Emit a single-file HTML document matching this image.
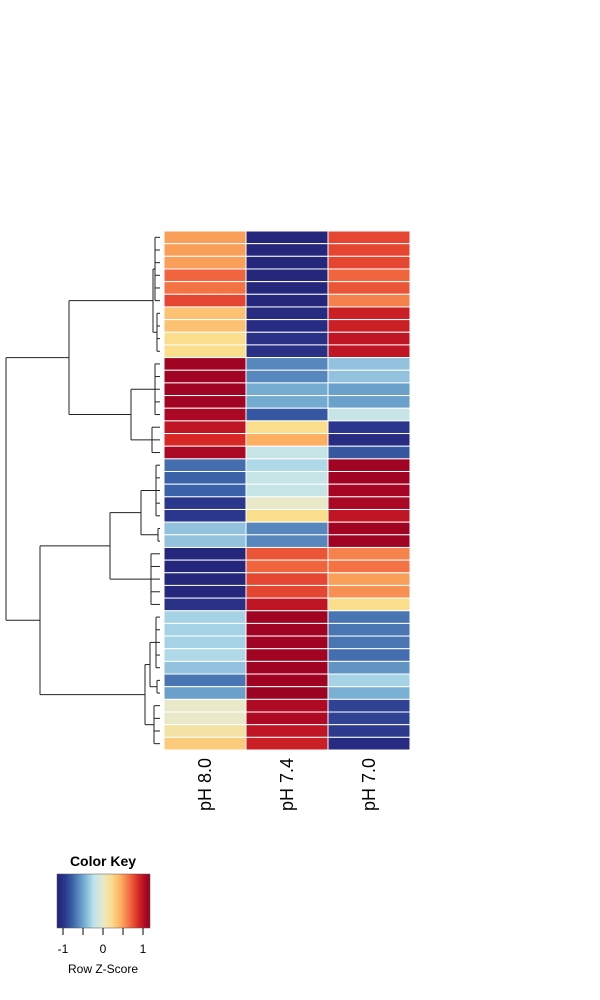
<!DOCTYPE html>
<html><head><meta charset="utf-8"><style>
body{margin:0;background:#fff;}
svg{display:block;font-family:"Liberation Sans",Arial,sans-serif;}
</style></head><body>
<svg id="chart" width="600" height="1000">
<g id="dendro"></g>
<g id="cells"></g>
<g id="collabels"></g>
<g id="key">
<text x="103" y="866" text-anchor="middle" font-size="14" font-weight="bold">Color Key</text>
<defs><linearGradient id="kg" x1="0" x2="1" y1="0" y2="0"></linearGradient></defs>
<rect x="57" y="874" width="93" height="54" fill="url(#kg)" stroke="#555" stroke-width="0.5"/>
<g id="keyticks"></g>
<text x="103" y="973" text-anchor="middle" font-size="12">Row Z-Score</text>
</g>
</svg>
<script>
const columns = ["pH 8.0","pH 7.4","pH 7.0"];
const colPH80 = [0.5,0.5,0.5,0.7,0.65,0.8,0.35,0.35,0.2,0.2,1.15,1.15,1.15,1.15,1.1,1.0,0.9,1.1,-0.75,-0.8,-0.8,-1.0,-1.0,-0.4,-0.4,-1.15,-1.15,-1.15,-1.15,-1.05,-0.33,-0.33,-0.33,-0.3,-0.4,-0.72,-0.55,0.0,0.0,0.12,0.3];
const colPH74 = [-1.15,-1.15,-1.15,-1.15,-1.15,-1.15,-1.1,-1.1,-1.05,-1.05,-0.65,-0.65,-0.5,-0.5,-0.85,0.2,0.45,-0.2,-0.3,-0.2,-0.2,0.0,0.2,-0.65,-0.65,0.75,0.7,0.8,0.8,1.0,1.15,1.15,1.15,1.15,1.15,1.15,1.17,1.08,1.08,1.0,0.95];
const colPH70 = [0.8,0.8,0.8,0.7,0.75,0.6,0.95,0.95,1.0,1.0,-0.4,-0.4,-0.55,-0.55,-0.2,-1.0,-1.1,-0.85,1.15,1.15,1.12,1.1,1.0,1.15,1.15,0.6,0.65,0.5,0.55,0.2,-0.72,-0.72,-0.72,-0.75,-0.6,-0.33,-0.48,-0.95,-0.95,-0.98,-1.1];
const keyTicks = [-1,-0.5,0,0.5,1];
const keyTickLabels = ["-1","","0","","1"];
const tree = [154,[91,[7,[5,0,5],[3,6,9]],[29,[5,10,14],[8,15,17]]],[120,[50,[19,[4,18,22],[2,23,24]],[9,25,29]],[15,[10,[4,30,34],[3,35,36]],[6,37,40]]]];

const NS="http://www.w3.org/2000/svg";
const stops=[[-1.2,[35,33,120]],[-1.0,[43,55,140]],[-0.8,[58,98,168]],[-0.5,[116,172,209]],[-0.25,[190,228,238]],[0.0,[233,232,200]],[0.2,[250,222,140]],[0.45,[253,174,97]],[0.7,[240,100,62]],[0.9,[215,40,38]],[1.05,[180,12,37]],[1.2,[150,0,33]]];
function col(v){v=Math.max(-1.2,Math.min(1.2,v));for(let i=0;i<stops.length-1;i++){const a=stops[i],b=stops[i+1];if(v<=b[0]){const t=(v-a[0])/(b[0]-a[0]);return "rgb("+a[1].map((c,k)=>Math.round(c+(b[1][k]-c)*t)).join(",")+")";}}return "rgb(150,0,33)";}
const X0=164,CW=82,Y0=231,RH=519/41;
const xCol=i=>X0+i*CW, yRow=i=>Y0+i*RH;
const series=[colPH80,colPH74,colPH70];
const cells=document.getElementById('cells');
series.forEach((s,c)=>s.forEach((v,r)=>{
 const el=document.createElementNS(NS,'rect');
 el.setAttribute('x',xCol(c));el.setAttribute('y',yRow(r));el.setAttribute('width',CW);el.setAttribute('height',RH);
 el.setAttribute('fill',col(v));el.setAttribute('stroke','#fff');el.setAttribute('stroke-width','1');
 
 
 cells.appendChild(el);
}));
const cl=document.getElementById('collabels');
columns.forEach((n,i)=>{
 const t=document.createElementNS(NS,'text');
 const x=xCol(i)+CW/2+6,y=758;
 t.setAttribute('x',x);t.setAttribute('y',y);t.setAttribute('transform','rotate(-90 '+x+' '+y+')');
 t.setAttribute('text-anchor','end');t.setAttribute('font-size','18');t.textContent=n;
 
 
 cl.appendChild(t);
});
const dg=document.getElementById('dendro');
const hx=h=>160-h;
function line(x1,y1,x2,y2){const l=document.createElementNS(NS,'line');l.setAttribute('x1',x1);l.setAttribute('y1',y1);l.setAttribute('x2',x2);l.setAttribute('y2',y2);l.setAttribute('stroke','#222');l.setAttribute('stroke-width','1');
 
 
 dg.appendChild(l);}
function draw(n){
 if(typeof n[1]==='number'){const x=hx(n[0]);const ya=yRow(n[1])+RH/2,yb=yRow(n[2])+RH/2;
  for(let r=n[1];r<=n[2];r++)line(x,yRow(r)+RH/2,hx(0),yRow(r)+RH/2);
  line(x,ya,x,yb);return {y:(ya+yb)/2,x};}
 const a=draw(n[1]),b=draw(n[2]);const x=hx(n[0]);
 line(x,a.y,a.x,a.y);line(x,b.y,b.x,b.y);line(x,a.y,x,b.y);return {y:(a.y+b.y)/2,x};
}
draw(tree);
const kg=document.getElementById('kg');
stops.forEach(s=>{const st=document.createElementNS(NS,'stop');st.setAttribute('offset',((s[0]+1.2)/2.4*100)+'%');st.setAttribute('stop-color','rgb('+s[1].join(',')+')');kg.appendChild(st);});
const kx=v=>103+v*40;
const kt=document.getElementById('keyticks');
keyTicks.forEach((v,i)=>{
 const l=document.createElementNS(NS,'line');l.setAttribute('x1',kx(v));l.setAttribute('x2',kx(v));l.setAttribute('y1',928);l.setAttribute('y2',935);l.setAttribute('stroke','#000');
 
 
 kt.appendChild(l);
 if(keyTickLabels[i]){const t=document.createElementNS(NS,'text');t.setAttribute('x',kx(v));t.setAttribute('y',953);t.setAttribute('text-anchor','middle');t.setAttribute('font-size','12');t.textContent=keyTickLabels[i];
 
 
 kt.appendChild(t);}
});
</script>
</body></html>
